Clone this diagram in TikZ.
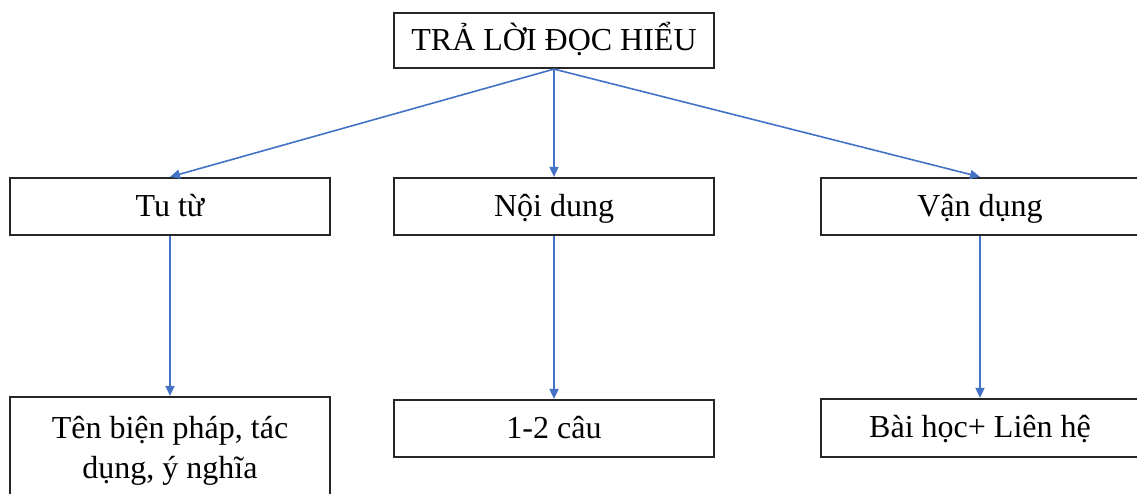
\documentclass[tikz,border=0pt]{standalone}
\usepackage{fontspec}
\setmainfont{Liberation Serif}
\usetikzlibrary{arrows.meta}
\definecolor{linkblue}{HTML}{4472C4}
\tikzset{
  boxnode/.style={draw=black!85, line width=2.2pt, minimum width=320pt,
    minimum height=56pt, inner sep=0pt, align=center,
    font=\fontsize{32}{40}\selectfont},
  oneline/.style={text height=26pt, text depth=7pt},
  link/.style={draw=linkblue, line width=1.6pt,
    -{Triangle[length=10pt,width=9pt]}}
}
\begin{document}
\begin{tikzpicture}[x=1pt,y=-1pt]
  \useasboundingbox[fill=white] (0,0) rectangle (1137,493);
  % top heading
  \node[boxnode, oneline, minimum height=55pt] (root) at (554,40.5) {TRẢ LỜI ĐỌC HIỂU};
  % middle row
  \node[boxnode, oneline, minimum height=57pt] (tutu) at (170,206.5) {Tu từ};
  \node[boxnode, oneline, minimum height=57pt] (noidung) at (554,206.5) {Nội dung};
  \node[boxnode, oneline, minimum height=57pt, minimum width=318pt] (vandung) at (980,206.5) {Vận dụng};
  % bottom row
  \node[boxnode, minimum height=107pt] (ten) at (170,450.5) {Tên biện pháp, tác\\dụng, ý nghĩa};
  \node[boxnode, oneline, minimum height=57pt] (cau) at (554,428.5) {1-2 câu};
  \node[boxnode, oneline, minimum height=58pt, minimum width=318pt] (baihoc) at (980,428) {Bài học+ Liên hệ};
  % connectors
  \draw[link] (root.south) -- (tutu.north);
  \draw[link] (root.south) -- (noidung.north);
  \draw[link] (root.south) -- (vandung.north);
  \draw[link] (tutu.south) -- (ten.north);
  \draw[link] (noidung.south) -- (cau.north);
  \draw[link] (vandung.south) -- (baihoc.north);
\end{tikzpicture}
\end{document}
